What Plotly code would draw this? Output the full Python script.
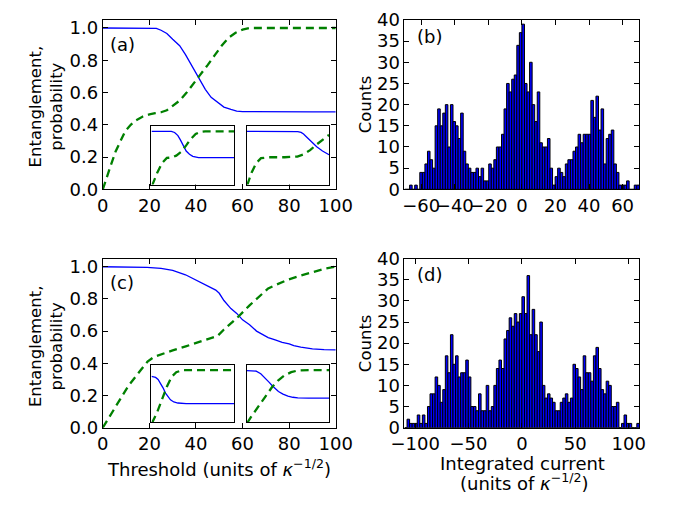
import numpy as np
import plotly.graph_objects as go

# ---------------- data ----------------
# (a) entanglement (solid) and probability (dashed) vs threshold
a_ent_x = [0, 10, 20, 23, 25, 27.5, 30, 33, 35.5, 38.5, 41, 44, 46.5, 49, 52, 55, 57.5, 60, 70, 80, 90, 100]
a_ent_y = [1.0, 1.0, 1.0, 0.998, 0.986, 0.966, 0.93, 0.89, 0.835, 0.76, 0.69, 0.62, 0.57, 0.54, 0.51,
           0.495, 0.485, 0.482, 0.48, 0.48, 0.48, 0.48]
a_prob_x = [0, 1.5, 3, 5.5, 7.5, 9.6, 12, 14, 17, 20, 22.5, 25, 27.5, 30, 33, 36, 39, 42, 45, 48, 51,
            54, 57, 60, 63, 70, 100]
a_prob_y = [0, 0.06, 0.13, 0.235, 0.3, 0.36, 0.4, 0.425, 0.45, 0.465, 0.472, 0.478, 0.49, 0.515, 0.55,
            0.6, 0.655, 0.71, 0.77, 0.83, 0.89, 0.94, 0.97, 0.99, 1.0, 1.0, 1.0]

# (a) insets
a_in1_ent_x = [0, 24, 28, 32, 35, 38, 42, 46, 50, 57, 100]
a_in1_ent_y = [1.0, 1.0, 0.98, 0.92, 0.84, 0.74, 0.63, 0.57, 0.53, 0.508, 0.506]
a_in1_prob_x = [0, 1.2, 7, 12.8, 18.6, 24.4, 30, 36, 42, 47.7, 53.5, 59.3, 65, 100]
a_in1_prob_y = [0, 0.0, 0.224, 0.405, 0.5, 0.508, 0.544, 0.616, 0.737, 0.858, 0.95, 0.99, 1.0, 1.0]
a_in2_ent_x = [0, 58, 62, 66, 69, 73, 77, 81, 85, 92, 100]
a_in2_ent_y = [1.0, 1.0, 0.995, 0.98, 0.95, 0.89, 0.83, 0.76, 0.71, 0.63, 0.56]
a_in2_prob_x = [0, 0.8, 5.8, 11.5, 17.3, 27, 46, 61.5, 69, 77, 84.6, 92.3, 98, 100]
a_in2_prob_y = [0, 0.0, 0.224, 0.405, 0.496, 0.514, 0.514, 0.526, 0.568, 0.647, 0.75, 0.846, 0.92, 0.935]

# (c) entanglement (solid) and probability (dashed) vs threshold
c_ent_x = [0, 10, 15, 19, 25, 30, 35.5, 41, 44, 46.6, 48.5, 50, 52, 55, 57.5, 60, 63, 66, 68.5, 71,
           74, 77, 80, 82, 85, 90, 95, 100]
c_ent_y = [1.0, 1.0, 0.999, 0.996, 0.99, 0.977, 0.95, 0.91, 0.885, 0.865, 0.855, 0.835, 0.79, 0.74,
           0.71, 0.67, 0.64, 0.60, 0.58, 0.56, 0.545, 0.53, 0.52, 0.51, 0.50, 0.49, 0.485, 0.483]
c_prob_x = [0, 5.5, 11, 16.4, 19.2, 22, 24.7, 30, 35.6, 41, 46.6, 49.3, 52, 57.5, 63, 68.5, 71, 74,
            79.5, 85, 90.4, 95.9, 100]
c_prob_y = [0, 0.13, 0.26, 0.36, 0.41, 0.44, 0.455, 0.48, 0.505, 0.53, 0.555, 0.57, 0.61, 0.68, 0.76,
            0.83, 0.865, 0.885, 0.92, 0.945, 0.965, 0.99, 1.0]

# (c) insets
c_in1_ent_x = [0, 5, 8, 11, 14, 17, 20, 23, 27, 32, 42, 100]
c_in1_ent_y = [0.88, 0.86, 0.82, 0.75, 0.66, 0.56, 0.49, 0.43, 0.39, 0.37, 0.36, 0.36]
c_in1_prob_x = [0, 1, 7, 13, 18.6, 24.4, 30, 38, 100]
c_in1_prob_y = [0, 0, 0.2, 0.44, 0.68, 0.87, 0.96, 1.0, 1.0]
c_in2_ent_x = [0, 5, 11.5, 17, 23, 27, 31, 35, 38.5, 44, 50, 56, 62, 75, 100]
c_in2_ent_y = [0.99, 0.99, 0.98, 0.93, 0.84, 0.77, 0.7, 0.64, 0.59, 0.54, 0.5, 0.48, 0.47, 0.465, 0.465]
c_in2_prob_x = [0, 1, 5, 10, 15, 20, 25, 31, 38, 46, 54, 61.5, 75, 100]
c_in2_prob_y = [0, 0, 0.1, 0.21, 0.32, 0.43, 0.55, 0.68, 0.8, 0.9, 0.96, 0.99, 1.0, 1.0]

# (b) histogram of integrated current
b_bin_start = -70.0
b_bin_stop = 70.0
b_counts = [0, 0, 1, 0, 1, 0, 4, 4, 6, 9,
            7, 5, 15, 19, 15, 18, 20, 10, 20, 16,
            15, 12, 18, 9, 6, 5, 4, 4, 5, 3,
            5, 2, 2, 6, 5, 7, 10, 10, 13, 19,
            25, 23, 26, 27, 34, 37, 39, 25, 23, 30,
            20, 16, 23, 11, 10, 10, 12, 5, 1, 3,
            5, 4, 3, 6, 7, 7, 9, 10, 13, 11,
            13, 13, 13, 21, 17, 22, 14, 19, 6, 12,
            13, 14, 6, 4, 1, 1, 1, 2, 0, 0,
            1, 1]

# (d) histogram of integrated current
d_bin_start = -110.0
d_bin_stop = 110.0
d_counts = [0, 2, 1, 1, 1, 3, 1, 3, 1, 5,
            8, 8, 12, 10, 6, 9, 17, 13, 22, 15,
            17, 12, 13, 13, 16, 12, 5, 5, 4, 8,
            4, 4, 10, 4, 5, 10, 14, 16, 14, 21,
            23, 26, 24, 27, 25, 27, 31, 27, 36, 22,
            28, 22, 18, 25, 10, 7, 8, 7, 6, 4,
            4, 6, 7, 8, 6, 7, 15, 14, 12, 9,
            17, 13, 13, 11, 17, 19, 14, 9, 8, 11,
            10, 5, 5, 6, 0, 1, 3, 1, 1, 0,
            0, 1]

# ---------------- styling ----------------
W, H = 685, 511
FONT = "DejaVu Sans"
BLUE = "#0000ff"
GREEN = "#008000"


def px_x(p):
    return p / W


def px_y(p):
    return 1 - p / H


def bins(start, stop, counts):
    n = len(counts)
    w = (stop - start) / n
    centers = start + w * (np.arange(n) + 0.5)
    return centers, w


fig = go.Figure()


def add_lines(xa, ya, ex, ey, px_, py_, lw_solid=1.3, lw_dash=2.3, dash="8px,5px"):
    fig.add_trace(go.Scatter(x=ex, y=ey, mode="lines", line=dict(color=BLUE, width=lw_solid),
                             xaxis=xa, yaxis=ya, showlegend=False, hoverinfo="skip"))
    fig.add_trace(go.Scatter(x=px_, y=py_, mode="lines", line=dict(color=GREEN, width=lw_dash, dash=dash),
                             xaxis=xa, yaxis=ya, showlegend=False, hoverinfo="skip"))


# main curves
add_lines("x", "y", a_ent_x, a_ent_y, a_prob_x, a_prob_y)
add_lines("x3", "y3", c_ent_x, c_ent_y, c_prob_x, c_prob_y)

# histograms
bc, bw = bins(b_bin_start, b_bin_stop, b_counts)
fig.add_trace(go.Bar(x=bc, y=b_counts, width=bw, marker=dict(color=BLUE, line=dict(color="black", width=1)),
                     xaxis="x2", yaxis="y2", showlegend=False, hoverinfo="skip"))
dc, dw = bins(d_bin_start, d_bin_stop, d_counts)
fig.add_trace(go.Bar(x=dc, y=d_counts, width=dw, marker=dict(color=BLUE, line=dict(color="black", width=1)),
                     xaxis="x4", yaxis="y4", showlegend=False, hoverinfo="skip"))

# insets
add_lines("x5", "y5", a_in1_ent_x, a_in1_ent_y, a_in1_prob_x, a_in1_prob_y)
add_lines("x6", "y6", a_in2_ent_x, a_in2_ent_y, a_in2_prob_x, a_in2_prob_y)
add_lines("x7", "y7", c_in1_ent_x, c_in1_ent_y, c_in1_prob_x, c_in1_prob_y)
add_lines("x8", "y8", c_in2_ent_x, c_in2_ent_y, c_in2_prob_x, c_in2_prob_y)

tickfont = dict(family=FONT, size=18, color="black")


def main_axis(domain, rng, dtick, anchor, fmt=None):
    d = dict(domain=domain, range=rng, dtick=dtick, tick0=0, anchor=anchor,
             showline=True, linecolor="black", linewidth=1, mirror="allticks",
             ticks="inside", ticklen=5, tickwidth=1, tickcolor="black",
             showgrid=False, zeroline=False, tickfont=tickfont, tickangle=0)
    if fmt:
        d["tickformat"] = fmt
    return d


def inset_axis(domain, rng, anchor):
    return dict(domain=domain, range=rng, anchor=anchor, showline=True, linecolor="black",
                linewidth=1, mirror=True, ticks="", showticklabels=False,
                showgrid=False, zeroline=False)


left_dom = [px_x(93), px_x(337)]
right_dom = [px_x(409), px_x(655)]
top_dom = [px_y(186), px_y(9.3)]
bot_dom = [px_y(434.5), px_y(258.3)]

in1_x = [px_x(144), px_x(230.5)]
in2_x = [px_x(243.8), px_x(330)]
in_top_y = [px_y(181), px_y(120)]
in_bot_y = [px_y(429), px_y(369)]

fig.update_layout(
    width=W, height=H,
    margin=dict(l=0, r=0, t=0, b=0),
    paper_bgcolor="white", plot_bgcolor="white",
    font=dict(family=FONT, color="black"),
    xaxis=main_axis(left_dom, [0, 100], 20, "y"),
    yaxis=main_axis(top_dom, [0, 1.05], 0.2, "x", ".1f"),
    xaxis2=main_axis(right_dom, [-70, 70], 20, "y2"),
    yaxis2=main_axis(top_dom, [0, 40], 5, "x2"),
    xaxis3=main_axis(left_dom, [0, 100], 20, "y3"),
    yaxis3=main_axis(bot_dom, [0, 1.05], 0.2, "x3", ".1f"),
    xaxis4=main_axis(right_dom, [-110, 110], 50, "y4"),
    yaxis4=main_axis(bot_dom, [0, 40], 5, "x4"),
    xaxis5=inset_axis(in1_x, [0, 100], "y5"),
    yaxis5=inset_axis(in_top_y, [0, 1.1], "x5"),
    xaxis6=inset_axis(in2_x, [0, 100], "y6"),
    yaxis6=inset_axis(in_top_y, [0, 1.1], "x6"),
    xaxis7=inset_axis(in1_x, [0, 100], "y7"),
    yaxis7=inset_axis(in_bot_y, [0, 1.1], "x7"),
    xaxis8=inset_axis(in2_x, [0, 100], "y8"),
    yaxis8=inset_axis(in_bot_y, [0, 1.1], "x8"),
)

ann = []


def label(text, x, y, size=18, angle=0):
    ann.append(dict(text=text, x=px_x(x), y=px_y(y), xref="paper", yref="paper",
                    showarrow=False, textangle=angle, xanchor="center", yanchor="middle",
                    font=dict(family=FONT, size=size, color="black")))


label("(a)", 114, 35)
label("(b)", 435, 27)
label("(c)", 113, 283)
label("(d)", 435, 275)
label("Entanglement,<br>probability", 33, 100, size=16.5, angle=-90)
label("Entanglement,<br>probability", 33, 350, size=16.5, angle=-90)
label("Counts", 368, 97, size=16.5, angle=-90)
label("Counts", 368, 346, size=16.5, angle=-90)
label("Threshold (units of <i>κ</i><sup>−1/2</sup>)", 215, 477)
label("Integrated current", 533, 472)
label("(units of <i>κ</i><sup>−1/2</sup>)", 535, 491)

fig.update_layout(annotations=ann)

fig.write_html("out.html")
